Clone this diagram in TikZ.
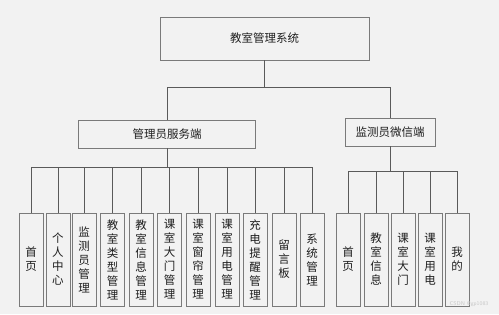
\documentclass[tikz,border=0pt]{standalone}
\usepackage{fontspec}
\newfontfamily\cjk{Noto Sans CJK SC}
\definecolor{bg}{HTML}{F2F2F2}
\definecolor{boxline}{HTML}{7A7A7A}
\definecolor{conn}{HTML}{5A5A5A}
\definecolor{txt}{HTML}{1E1E1E}
\begin{document}
\begin{tikzpicture}[x=1pt,y=-1pt,
  box/.style={draw=boxline,line width=0.9pt,fill=bg,inner sep=0pt,text=txt,font=\cjk\fontsize{11.5}{14}\selectfont},
  leaf/.style={box,minimum width=24pt,minimum height=93pt,align=center},
  conn/.style={draw=conn,line width=0.8pt}]
\fill[bg] (0,0) rectangle (499,314);
\useasboundingbox (0,0) rectangle (499,314);
% top levels
\node[box,minimum width=209pt,minimum height=43pt] (top) at (264.5,38.5) {教室管理系统};
\node[box,minimum width=177pt,minimum height=28pt] (admin) at (167,134) {管理员服务端};
\node[box,minimum width=90pt,minimum height=28pt] (mon) at (390,132) {监测员微信端};
\coordinate (b1) at (0,87);
\coordinate (b2) at (0,167);
\coordinate (b3) at (0,171);
\draw[conn] (top.south) -- (top.south |- b1);
\draw[conn] (admin.north) -- (admin.north |- b1) -- (mon.north |- b1) -- (mon.north);
% admin leaves
\foreach \n/\x/\t in {a1/31/首\\页, a2/58/个\\人\\中\\心, a3/84/监\\测\\员\\管\\理,
  a4/112.5/教\\室\\类\\型\\管\\理, a5/141/教\\室\\信\\息\\管\\理, a6/169.5/课\\室\\大\\门\\管\\理,
  a7/198/课\\室\\窗\\帘\\管\\理, a8/227/课\\室\\用\\电\\管\\理, a9/255/充\\电\\提\\醒\\管\\理,
  a10/284/留\\言\\板, a11/312/系\\统\\管\\理}{
  \node[leaf] (\n) at (\x,259.5) {\t};
}
\draw[conn] (admin.south) -- (admin.south |- b2);
\draw[conn] (a1.north |- b2) -- (a11.north |- b2);
\foreach \n in {a1,a2,a3,a4,a5,a6,a7,a8,a9,a10,a11}{
  \draw[conn] (\n.north) -- (\n.north |- b2);
}
% monitor leaves
\foreach \n/\x/\t in {m1/348/首\\页, m2/376/教\\室\\信\\息, m3/403/课\\室\\大\\门,
  m4/430/课\\室\\用\\电, m5/457/我\\的}{
  \node[leaf] (\n) at (\x,259.5) {\t};
}
\draw[conn] (mon.south) -- (mon.south |- b3);
\draw[conn] (m1.north |- b3) -- (m5.north |- b3);
\foreach \n in {m1,m2,m3,m4,m5}{
  \draw[conn] (\n.north) -- (\n.north |- b3);
}
\node[text=black!22,font=\sffamily\fontsize{5.5}{6}\selectfont,inner sep=0pt] (wm) at (469,304) {CSDN @gp1083};
\end{tikzpicture}
\end{document}
